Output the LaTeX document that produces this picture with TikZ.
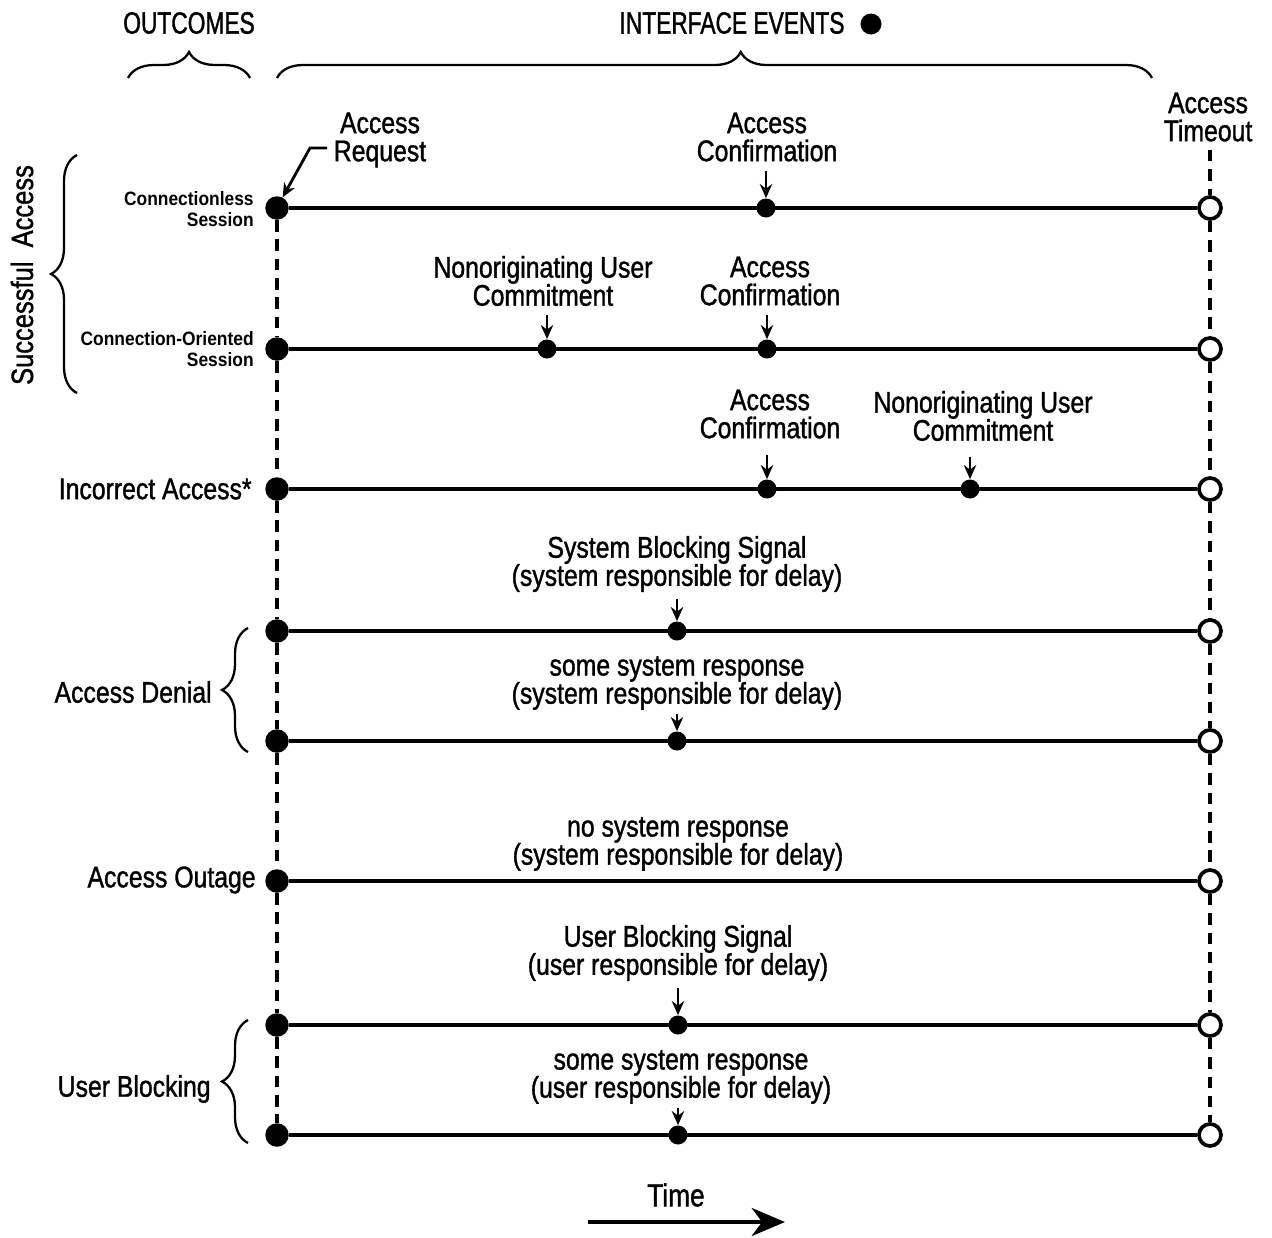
\documentclass[tikz,border=0pt]{standalone}
\usepackage{fontspec}
\setmainfont[FakeStretch=0.83,FakeBold=1.2]{Liberation Sans}
\newfontfamily\hdrf[FakeStretch=0.74,FakeBold=1.2]{Liberation Sans}
\newfontfamily\smallf[FakeStretch=0.9]{Liberation Sans}
\usetikzlibrary{decorations.pathreplacing,arrows.meta}
\begin{document}
\begin{tikzpicture}[x=0.02cm,y=-0.02cm,
  lbl/.style={font=\fontsize{17}{16}\selectfont, align=center, inner sep=0pt},
  hdr/.style={font=\hdrf\fontsize{17.5}{18}\selectfont, inner sep=0pt},
  sml/.style={font=\smallf\bfseries\fontsize{11}{11.5}\selectfont, align=right, inner sep=0pt, anchor=east},
  outc/.style={font=\fontsize{17}{18}\selectfont, inner sep=0pt, anchor=east},
  startdot/.style={circle, fill=black, inner sep=0pt, minimum size=0.47cm},
  evdot/.style={circle, fill=black, inner sep=0pt, minimum size=0.38cm},
  enddot/.style={circle, draw=black, fill=white, line width=2.1pt, inner sep=0pt, minimum size=0.44cm},
  tline/.style={line width=2pt},
  dline/.style={line width=2.1pt, dash pattern=on 6.5pt off 4.5pt},
  evarrow/.style={line width=1.6pt, -{Stealth[length=8pt,width=7pt]}},
  brc/.style={line width=1.3pt, decorate, decoration={brace, amplitude=0.52cm}}
]
\useasboundingbox (0,0) rectangle (1272,1238);

% headers
\node[hdr] (outc) at (189,23) {OUTCOMES};
\node[hdr] (ifev) at (732,23) {INTERFACE EVENTS};
\node[circle, fill=black, inner sep=0pt, minimum size=0.42cm] (ifdot) at (871,24) {};
\draw[brc] (128,78) -- (250,78);
\draw[brc, decoration={brace, amplitude=0.52cm, aspect=0.53}] (277,78) -- (1152,78);

% row nodes
\foreach \n/\y in {1/208,2/349,3/489,4/631,5/741,6/881,7/1025,8/1135}{
  \node[startdot] (L\n) at (277,\y) {};
  \node[enddot] (R\n) at (1210,\y) {};
}
\coordinate (Rtop) at (1210,150);

% dashed verticals
\draw[dline] (L1) -- (L2) -- (L3) -- (L4) -- (L5) -- (L6) -- (L7) -- (L8);
\draw[dline] (Rtop) -- (R1);
\foreach \a/\b in {1/2,2/3,3/4,4/5,5/6,6/7,7/8}{
  \draw[dline] (R\a) -- (R\b);
}
% time lines
\foreach \n in {1,...,8}{
  \draw[tline] (L\n) -- (R\n);
}

% outcome labels
\node[font=\fontsize{17.5}{18}\selectfont, inner sep=0pt, rotate=90] (succ) at (22,275) {Successful\ \ Access};
\draw[brc] (77,393) -- (77,155);
\node[sml] (cls) at (254,209) {Connectionless\\Session};
\node[sml] (cos) at (254,349) {Connection-Oriented\\Session};
\node[outc] (inc) at (252,489) {Incorrect Access*};
\node[outc] (den) at (212,692) {Access Denial};
\draw[brc] (248,752) -- (248,628);
\node[outc] (outg) at (256,880) {Access Outage};
\node[outc] (ublk) at (211,1089) {User Blocking};
\draw[brc] (248,1143) -- (248,1020);

% event dots
\node[evdot] (e1) at (766,208) {};
\node[evdot] (e2a) at (547,349) {};
\node[evdot] (e2b) at (767,349) {};
\node[evdot] (e3a) at (767,489) {};
\node[evdot] (e3b) at (970,489) {};
\node[evdot] (e4) at (677,631) {};
\node[evdot] (e5) at (677,741) {};
\node[evdot] (e7) at (678,1025) {};
\node[evdot] (e8) at (678,1135) {};

% event labels
\node[lbl] (areq) at (380,140) {Access\\Request};
\node[lbl] (atmo) at (1208,117) {Access\\Timeout};
\node[lbl] (c1) at (767,137) {Access\\Confirmation};
\node[lbl] (n2) at (543,281) {Nonoriginating User\\Commitment};
\node[lbl] (c2) at (770,281) {Access\\Confirmation};
\node[lbl] (c3) at (770,414) {Access\\Confirmation};
\node[lbl] (n3) at (983,416) {Nonoriginating User\\Commitment};
\node[lbl] (s4) at (677,564) {System Blocking Signal\\(system responsible for delay)};
\node[lbl] (s5) at (677,683) {some system response\\(system responsible for delay)};
\node[lbl] (s6) at (678,844) {no system response\\(system responsible for delay)};
\node[lbl] (s7) at (678,953) {User Blocking Signal\\(user responsible for delay)};
\node[lbl] (s8) at (681,1077) {some system response\\(user responsible for delay)};

% event arrows
\coordinate (arq) at (327,148);
\coordinate (arb) at (310,148);
\draw[evarrow] (arq) -- (arb) -- (L1.62);
\draw[evarrow, shorten <=5pt] (c1.south -| e1) -- (e1.north);
\draw[evarrow, shorten <=5pt] (n2.south -| e2a) -- (e2a.north);
\draw[evarrow, shorten <=5pt] (c2.south -| e2b) -- (e2b.north);
\draw[evarrow, shorten <=9pt] (c3.south -| e3a) -- (e3a.north);
\draw[evarrow, shorten <=9pt] (n3.south -| e3b) -- (e3b.north);
\draw[evarrow, shorten <=4pt] (s4.south -| e4) -- (e4.north);
\draw[evarrow, shorten <=2pt] (s5.south -| e5) -- (e5.north);
\draw[evarrow, shorten <=4pt] (s7.south -| e7) -- (e7.north);
\draw[evarrow, shorten <=2pt] (s8.south -| e8) -- (e8.north);

% time arrow
\node[font=\fontsize{18}{18}\selectfont, inner sep=0pt] (time) at (676,1195) {Time};
\coordinate (t1) at (588,1222);
\coordinate (t2) at (785,1222);
\draw[line width=2pt, -{Stealth[length=19pt,width=16pt,inset=6pt]}] (t1) -- (t2);
\end{tikzpicture}
\end{document}
